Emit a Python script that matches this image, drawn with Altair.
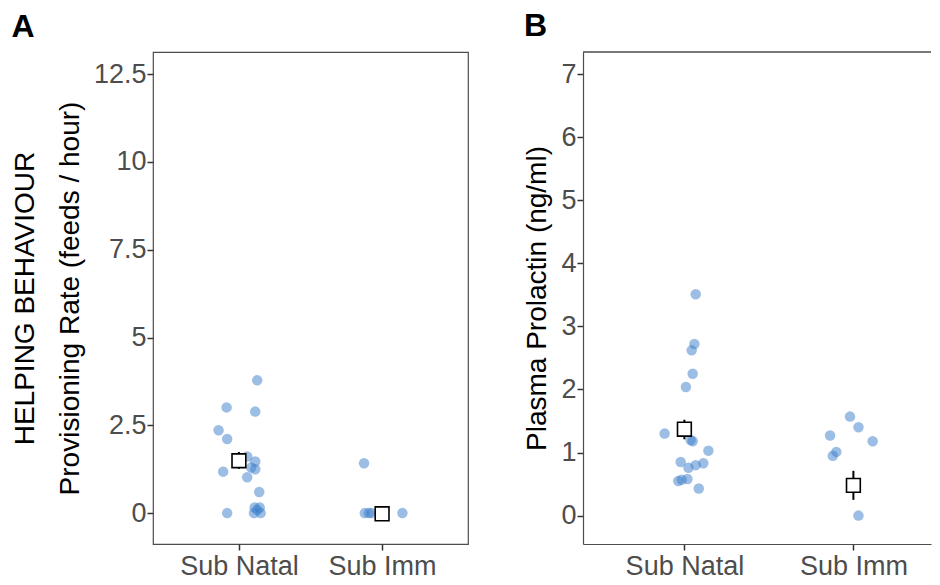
import altair as alt
import pandas as pd

groups = ["Sub Natal", "Sub Imm"]

# Panel A: provisioning rate (feeds / hour)
a_natal_y = [3.78, 3.01, 2.89, 2.36, 2.11, 1.61, 1.47, 1.30, 1.25, 1.18, 1.02, 0.60, 0.16, 0.16, 0.09, 0.0, 0.0, 0.0]
a_natal_jit = [0.128, -0.086, 0.114, -0.142, -0.082, 0.058, 0.114, 0.086, 0.114, -0.110, 0.058, 0.142, 0.110, 0.145, 0.128, -0.082, 0.105, 0.152]
a_imm_y = [1.42, 0.0, 0.0, 0.0, 0.0]
a_imm_jit = [-0.126, -0.121, -0.093, -0.075, 0.142]
a_mean = [1.49, -0.02]
a_lo = [1.26, -0.02]
a_hi = [1.74, -0.02]

# Panel B: plasma prolactin (ng/ml)
b_natal_y = [3.51, 2.72, 2.62, 2.25, 2.04, 1.30, 1.20, 1.18, 1.03, 0.85, 0.76, 0.80, 0.83, 0.55, 0.57, 0.58, 0.43]
b_natal_jit = [0.067, 0.059, 0.043, 0.049, 0.009, -0.117, 0.037, 0.049, 0.142, -0.022, 0.024, 0.067, 0.112, -0.036, -0.016, 0.018, 0.085]
b_imm_y = [1.57, 1.40, 1.27, 1.18, 1.01, 0.95, 0.00]
b_imm_jit = [-0.020, 0.030, -0.138, 0.114, -0.101, -0.122, 0.030]
b_mean = [1.37, 0.48]
b_lo = [1.21, 0.25]
b_hi = [1.52, 0.71]

FONT = "Liberation Sans"
PT_COLOR = "#3a7dc9"


def pts_frame(natal_y, natal_jit, imm_y, imm_jit):
    rows = []
    for y, j in zip(natal_y, natal_jit):
        rows.append({"x": 1 + j, "y": y, "group": groups[0]})
    for y, j in zip(imm_y, imm_jit):
        rows.append({"x": 2 + j, "y": y, "group": groups[1]})
    return pd.DataFrame(rows)


def mean_frame(mean, lo, hi):
    return pd.DataFrame({"x": [1, 2], "mean": mean, "lo": lo, "hi": hi, "group": groups})


label_expr = "datum.value == 1 ? 'Sub Natal' : 'Sub Imm'"


def panel(pts, means, ydom, yvals, ytitle, letter, width, xmax, border):
    xenc = alt.X(
        "x:Q",
        scale=alt.Scale(domain=[0.4, xmax], nice=False, zero=False),
        axis=alt.Axis(values=[1, 2], labelExpr=label_expr, title=None, grid=False,
                      domain=not border, labelPadding=3),
    )
    yscale = alt.Scale(domain=ydom, nice=False, zero=False)
    yaxis = alt.Axis(values=yvals, labelExpr="'' + datum.value", title=ytitle, grid=False,
                     domain=not border, titleLineHeight=45, titlePadding=9, labelPadding=1)
    points = alt.Chart(pts).mark_circle(size=110, color=PT_COLOR, opacity=0.5).encode(
        x=xenc, y=alt.Y("y:Q", scale=yscale, axis=yaxis)
    )
    bars = alt.Chart(means).mark_rule(color="black", strokeWidth=2).encode(
        x=xenc, y=alt.Y("lo:Q", scale=yscale, axis=yaxis), y2="hi:Q"
    )
    squares = alt.Chart(means).mark_square(size=190, fill="white", stroke="black",
                                           strokeWidth=1.6, opacity=1).encode(
        x=xenc, y=alt.Y("mean:Q", scale=yscale, axis=yaxis)
    )
    layers = [points, bars, squares]
    if not border:
        top = alt.Chart(means).mark_rule(color="#4d4d4d", strokeWidth=1.2).encode(
            x=alt.value(0), x2=alt.value(width), y=alt.value(0)
        )
        layers.append(top)
    ch = alt.layer(*layers).properties(
        width=width, height=492,
        title=alt.TitleParams(letter, anchor="start", frame="bounds", fontSize=32,
                              fontWeight="bold", font=FONT, color="black", offset=8),
    )
    if border:
        ch = ch.properties(view=alt.ViewBackground(stroke="#4d4d4d", strokeWidth=1.2))
    else:
        ch = ch.properties(view=alt.ViewBackground(stroke=None))
    return ch


chart_a = panel(pts_frame(a_natal_y, a_natal_jit, a_imm_y, a_imm_jit),
                mean_frame(a_mean, a_lo, a_hi),
                [-0.88, 13.13], [0, 2.5, 5, 7.5, 10, 12.5],
                ["HELPING BEHAVIOUR", "Provisioning Rate (feeds / hour)"], "A", 315, 2.6, True)

chart_b = panel(pts_frame(b_natal_y, b_natal_jit, b_imm_y, b_imm_jit),
                mean_frame(b_mean, b_lo, b_hi),
                [-0.45, 7.35], [0, 1, 2, 3, 4, 5, 6, 7],
                "Plasma Prolactin (ng/ml)", "B", 348, 0.4 + 348 / 169, False)

chart = alt.hconcat(chart_a, chart_b, spacing=54).properties(
    padding={"left": 2, "top": 2, "right": 0, "bottom": 0}
).configure_axis(
    labelFont=FONT, labelFontSize=27, labelColor="#4d4d4d",
    titleFont=FONT, titleFontSize=28, titleColor="black", titleFontWeight="normal",
    tickColor="#333333", tickSize=6, tickWidth=1.5, domainColor="#4d4d4d", domainWidth=1.2,
).configure_view(strokeWidth=1.2)

chart.save("out.html", embed_options={"renderer": "svg", "actions": False})
